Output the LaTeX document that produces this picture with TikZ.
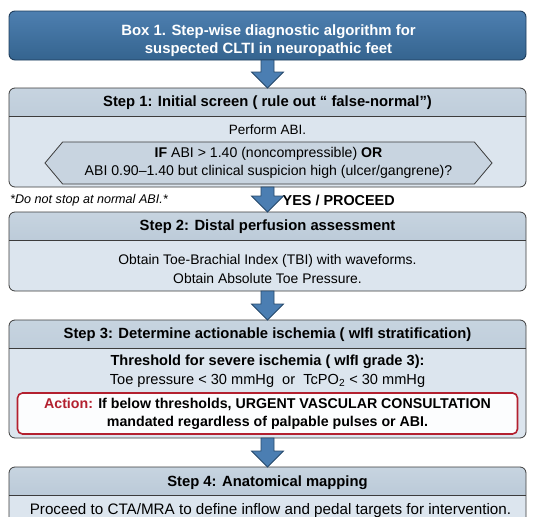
\documentclass[tikz,border=0pt]{standalone}
\usepackage{fontspec}
\setmainfont{Liberation Sans}
\usetikzlibrary{calc, positioning, shapes.symbols}

\definecolor{titletop}{HTML}{4D7FB0}
\definecolor{titlebot}{HTML}{35648F}
\definecolor{titleline}{HTML}{1F3D5C}
\definecolor{headtop}{HTML}{C7D4E0}
\definecolor{headbot}{HTML}{A9BBCC}
\definecolor{bodyfill}{HTML}{DCE5EE}
\definecolor{linegray}{HTML}{3C3C3C}
\definecolor{hexfill}{HTML}{C8D4E0}
\definecolor{arrowfill}{HTML}{4B7EB2}
\definecolor{arrowline}{HTML}{27496B}
\definecolor{actred}{HTML}{B3202F}

\begin{document}
\begin{tikzpicture}[x=1pt, y=-1pt, auto]
    \tikzstyle{titlebox} = [rectangle, draw=titleline, line width=0.9pt, top color=titletop, bottom color=titlebot, rounded corners=6pt, minimum width=517pt, minimum height=49pt, inner sep=0pt, outer sep=0pt]
    \tikzstyle{titletext} = [inner sep=0pt, align=center, text=white, font=\bfseries\fontsize{14.9}{18.5}\selectfont]
    \tikzstyle{stepbox} = [rectangle, draw=linegray, line width=0.8pt, fill=bodyfill, rounded corners=6pt, minimum width=517pt, inner sep=0pt, outer sep=0pt,
        path picture={\fill[sharp corners, top color=headtop, bottom color=headbot] (path picture bounding box.north west) rectangle ([yshift=-28pt]path picture bounding box.north east);
        \draw[sharp corners, linegray, line width=0.8pt] ([yshift=-28pt]path picture bounding box.north west) -- ([yshift=-28pt]path picture bounding box.north east);}]
    \tikzstyle{headtext} = [inner sep=0pt, font=\bfseries\fontsize{14.8}{17}\selectfont]
    \tikzstyle{bodytext} = [inner sep=0pt, align=center, font=\fontsize{13.9}{18.5}\selectfont]
    \tikzstyle{hexbox} = [signal, signal to=west and east, signal pointer angle=100, draw=linegray, line width=0.8pt, fill=hexfill, minimum width=447pt, minimum height=42pt, inner sep=0pt, align=center, font=\fontsize{14.1}{17.5}\selectfont]
    \tikzstyle{actionbox} = [rectangle, draw=actred, line width=1.6pt, fill=white!92!bodyfill, rounded corners=5pt, minimum width=500pt, minimum height=41pt, inner sep=0pt, align=center, font=\bfseries\fontsize{14.2}{18}\selectfont]
    \tikzstyle{flow} = [draw=arrowline, line width=0.8pt, fill=arrowfill,
        to path={let \p1=(\tikztostart.south), \p2=(\tikztotarget.north) in
        (\x1-6.5pt,\y1) -- (\x1-6.5pt,\y2+16pt) -- (\x1-16pt,\y2+16pt) -- (\x1,\y2) -- (\x1+16pt,\y2+16pt) -- (\x1+6.5pt,\y2+16pt) -- (\x1+6.5pt,\y1) -- cycle}]

    \useasboundingbox (0,0) rectangle (536,517);

    % boxes
    \node [titlebox] (title) at (267.5,35.5) {};
    \node [titletext] (t1) at ($(title.center)+(1,5)$) {Box 1. Step-wise diagnostic algorithm for\\ suspected CLTI in neuropathic feet};
    \node [stepbox, minimum height=99pt, below=28pt of title] (s1) {};
    \node [stepbox, minimum height=79pt, below=25pt of s1] (s2) {};
    \node [stepbox, minimum height=118pt, below=29pt of s2] (s3) {};
    \node [stepbox, minimum height=70pt, below=29pt of s3] (s4) {};

    % step 1
    \node [headtext] (h1) at ($(s1.north)+(0,14.5)$) {Step 1: Initial screen ( rule out “ false-normal”)};
    \node [bodytext, font=\fontsize{13.5}{16}\selectfont] (b1) at ($(s1.north)+(0,42)$) {Perform ABI.};
    \node [hexbox] (hex) at ($(s1.north)+(1,75)$) {\textbf{IF} ABI > 1.40 (noncompressible) \textbf{OR}\\ ABI 0.90–1.40 but clinical suspicion high (ulcer/gangrene)?};
    \node [inner sep=0pt, anchor=west, font=\itshape\fontsize{12.6}{15}\selectfont] (note) at ($(s1.south west)+(1,13)$) {*Do not stop at normal ABI.*};
    \node [inner sep=0pt, anchor=west, font=\bfseries\fontsize{14.4}{17}\selectfont] (yes) at ($(s1.south)+(15,13)$) {YES / PROCEED};

    % step 2
    \node [headtext] (h2) at ($(s2.north)+(0,15)$) {Step 2: Distal perfusion assessment};
    \node [bodytext] (b2) at ($(s2.north)+(0,57)$) {Obtain Toe-Brachial Index (TBI) with waveforms.\\ Obtain Absolute Toe Pressure.};

    % step 3
    \node [headtext] (h3) at ($(s3.north)+(0,14.5)$) {Step 3: Determine actionable ischemia ( wIfI stratification)};
    \node [bodytext, font=\fontsize{14.6}{18.5}\selectfont] (b3) at ($(s3.north)+(0,51)$) {\textbf{Threshold for severe ischemia ( wIfI grade 3):}\\ Toe pressure < 30 mmHg \ or \ TcPO\textsubscript{2} < 30 mmHg};
    \node [actionbox] (action) at ($(s3.north)+(0,93.5)$) {\textcolor{actred}{Action:} If below thresholds, URGENT VASCULAR CONSULTATION\\ mandated regardless of palpable pulses or ABI.};

    % step 4
    \node [headtext] (h4) at ($(s4.north)+(0,16)$) {Step 4: Anatomical mapping};
    \node [bodytext, font=\fontsize{15.2}{18}\selectfont] (b4) at ($(s4.north)+(3,44)$) {Proceed to CTA/MRA to define inflow and pedal targets for intervention.};

    % arrows
    \path [flow] (title) to (s1);
    \path [flow] (s1) to (s2);
    \path [flow] (s2) to (s3);
    \path [flow] (s3) to (s4);
\end{tikzpicture}
\end{document}
